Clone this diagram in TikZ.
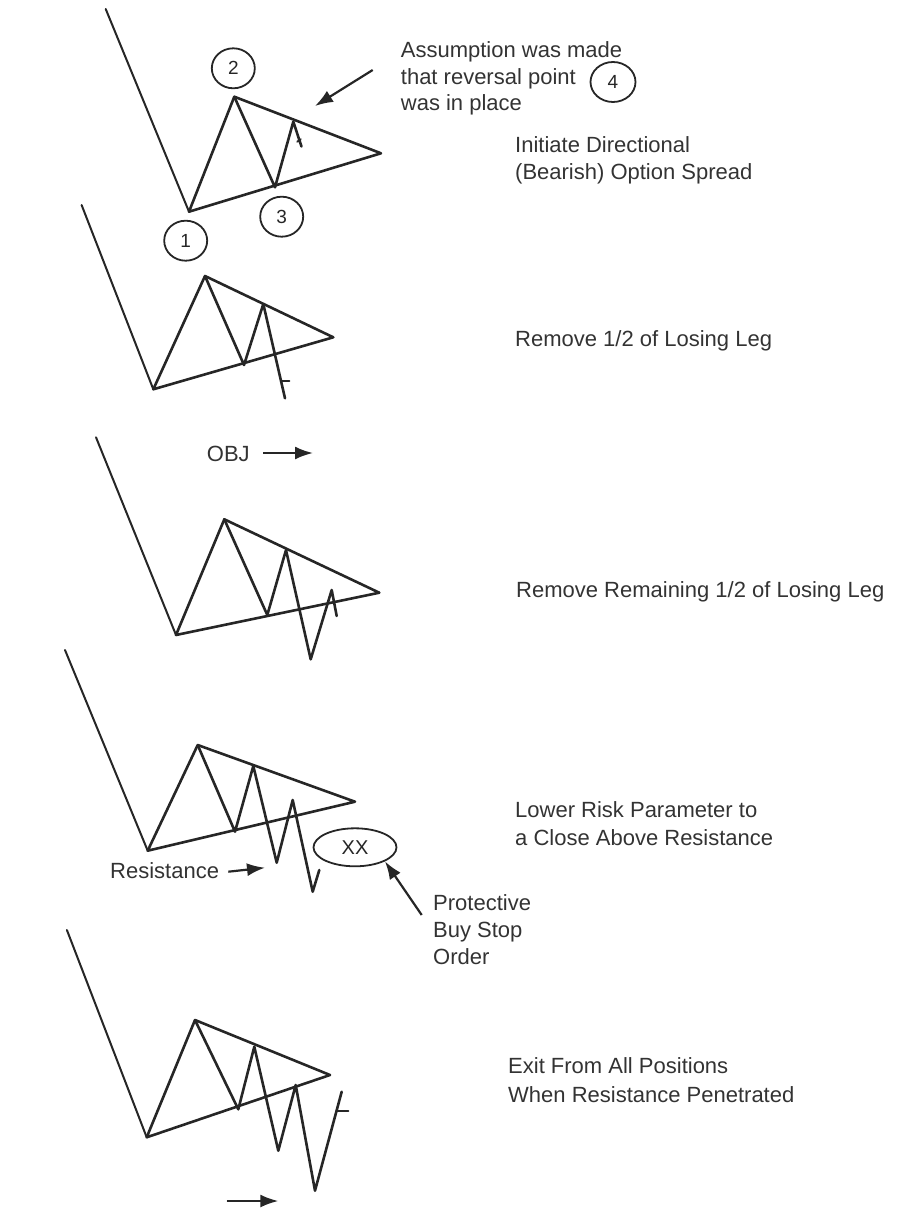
\documentclass[tikz,border=0pt]{standalone}
\usepackage{fontspec}
\setmainfont{Liberation Sans}
\usetikzlibrary{shapes.geometric,arrows.meta}
\begin{document}
\begin{tikzpicture}[x=1pt,y=-1pt,
  chart/.style={line width=2.6pt,line cap=round,line join=round,draw=black!85},
  trend/.style={line width=2pt,line cap=round,draw=black!85},
  lbl/.style={anchor=base west,inner sep=0pt,font=\fontsize{22}{27}\selectfont,text=black!80},
  num/.style={draw=black!85,ellipse,line width=1.8pt,minimum width=43pt,minimum height=40pt,inner sep=0pt,font=\fontsize{19}{22}\selectfont,text=black!85},
  pointer/.style={-{Latex[length=18pt,width=13pt]},line width=2.2pt,draw=black!85,fill=black!85},
]
\useasboundingbox (0,0) rectangle (915,1209);

% ---------- Panel 1 ----------
\draw[trend] (105.7,9) -- (189,211.7);
\draw[chart] (189,211.7) -- (234.3,96.7) -- (381,153.3) -- cycle;
\draw[chart] (234.3,96.7) -- (275,187.3) -- (293.3,121.7) -- (301.5,146.5);
\draw[chart,line width=2pt] (297.3,141.7) -- (300.7,139.3);
\node[num] (c2) at (233.3,68.3) {2};
\node[num] (c3) at (281.7,216.7) {3};
\node[num] (c1) at (185.7,240.7) {1};
\node[lbl] (as1) at (400.7,58) {Assumption was made};
\node[lbl] (as2) at (400.7,85) {that reversal point};
\node[lbl] (as3) at (400.7,111) {was in place};
\node[num,minimum width=45pt,minimum height=40pt] (c4) at (613,82) {4};
\coordinate (asTail) at (372.7,70);
\coordinate (asTip) at (315,106);
\draw[pointer] (asTail) -- (asTip);
\node[lbl] (t1a) at (515,153) {Initiate Directional};
\node[lbl] (t1b) at (515,180) {(Bearish) Option Spread};

% ---------- Panel 2 ----------
\draw[trend] (81.6,205) -- (153.3,389.3);
\draw[chart] (153.3,389.3) -- (205,276) -- (333.3,337.3) -- cycle;
\draw[chart] (205,276) -- (244,365) -- (263.3,304) -- (285,398.3);
\draw[chart,line width=2pt] (281.7,381) -- (289.3,381);
\node[lbl] (t2) at (515,346) {Remove 1/2 of Losing Leg};

% ---------- Panel 3 ----------
\node[lbl] (obj) at (206.7,461) {OBJ};
\coordinate (objTail) at (263,453);
\coordinate (objTip) at (313,453);
\draw[pointer] (objTail) -- (objTip);
\draw[trend] (96,437.3) -- (176,635);
\draw[chart] (176,635) -- (224.3,519.3) -- (379.3,592.7) -- cycle;
\draw[chart] (224.3,519.3) -- (267.3,615) -- (286,550) -- (310.7,659.3) -- (331.7,590) -- (336.7,616);
\node[lbl] (t3) at (516,597) {Remove Remaining 1/2 of Losing Leg};

% ---------- Panel 4 ----------
\draw[trend] (65,650) -- (147.7,850.7);
\draw[chart] (147.7,850.7) -- (197.7,745) -- (355,801.7) -- cycle;
\draw[chart] (197.7,745) -- (235,831.7) -- (253.3,766) -- (276.7,862.7) -- (292.7,800) -- (312.7,891.7) -- (319.3,870);
\node[draw=black!85,ellipse,line width=1.8pt,minimum width=83pt,minimum height=38pt,inner sep=0pt,font=\fontsize{20}{24}\selectfont,text=black!85] (xx) at (355,847.3) {XX};
\node[lbl] (res) at (110,878) {Resistance};
\coordinate (resTail) at (228.3,871.7);
\coordinate (resTip) at (265,867.7);
\draw[pointer] (resTail) -- (resTip);
\node[lbl] (pr1) at (433,910) {Protective};
\node[lbl] (pr2) at (433,937) {Buy Stop};
\node[lbl] (pr3) at (433,964) {Order};
\coordinate (prTail) at (421.7,915);
\draw[pointer] (prTail) -- (xx.south east);
\node[lbl] (t4a) at (515,817) {Lower Risk Parameter to};
\node[lbl] (t4b) at (515,845) {a Close Above Resistance};

% ---------- Panel 5 ----------
\draw[trend] (66.9,930) -- (146.7,1137.3);
\draw[chart] (146.7,1137.3) -- (195,1020) -- (330,1075) -- cycle;
\draw[chart] (195,1020) -- (238.3,1109.3) -- (254.3,1046.7) -- (278.3,1150.7) -- (295.7,1085) -- (315,1190.7) -- (341.7,1091.7);
\draw[chart,line width=2pt] (336.7,1111) -- (348.3,1111);
\coordinate (botTail) at (226.7,1201);
\coordinate (botTip) at (278.3,1201);
\draw[pointer] (botTail) -- (botTip);
\node[lbl] (t5a) at (508,1073) {Exit From All Positions};
\node[lbl] (t5b) at (508,1102) {When Resistance Penetrated};
\end{tikzpicture}
\end{document}
